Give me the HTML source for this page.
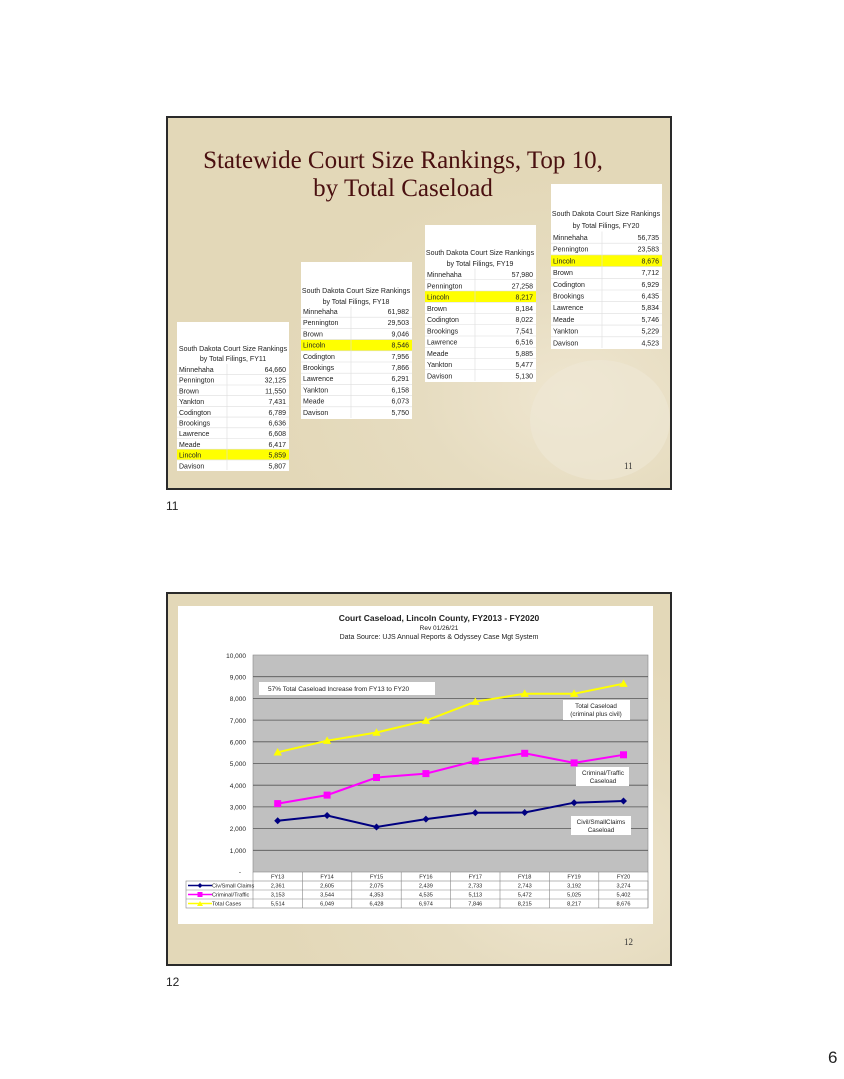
<!DOCTYPE html>
<html><head><meta charset="utf-8"><style>
html,body{margin:0;padding:0;background:#fff}
svg{display:block}
text{font-family:"Liberation Sans",sans-serif}
.t{font-size:7px;fill:#222}
.s{font-family:"Liberation Serif",serif}
</style></head><body>
<svg width="844" height="1079" viewBox="0 0 844 1079" xmlns="http://www.w3.org/2000/svg">
<defs>
<radialGradient id="bg" cx="0.8" cy="0.75" r="0.6">
<stop offset="0" stop-color="#efe6d0"/><stop offset="0.5" stop-color="#e6dcc0"/><stop offset="1" stop-color="#e3d8b8"/>
</radialGradient>
</defs>
<!-- Slide 11 -->
<rect x="167" y="117" width="504" height="372" fill="url(#bg)" stroke="#2a2a2a" stroke-width="2"/>
<ellipse cx="600" cy="420" rx="70" ry="60" fill="#efe8d6" opacity="0.6"/>
<text class="s" x="403" y="168" text-anchor="middle" font-size="25" fill="#4a1010">Statewide Court Size Rankings, Top 10,</text>
<text class="s" x="403" y="196" text-anchor="middle" font-size="25" fill="#4a1010">by Total Caseload</text>
<text class="s" x="624" y="469" font-size="9" fill="#333">11</text>

<!-- FY11 -->
<g>
<rect x="177" y="322" width="112" height="149" fill="#fff"/>
<text class="t" x="233" y="351" text-anchor="middle">South Dakota Court Size Rankings</text>
<text class="t" x="233" y="361" text-anchor="middle">by Total Filings, FY11</text>
<rect x="177" y="449" width="112" height="10.7" fill="#ff0"/>
<g stroke="#ddd" stroke-width="0.6"><line x1="227" y1="364" x2="227" y2="470"/>
<line x1="177" y1="374.3" x2="289" y2="374.3"/><line x1="177" y1="385" x2="289" y2="385"/><line x1="177" y1="395.7" x2="289" y2="395.7"/><line x1="177" y1="406.4" x2="289" y2="406.4"/><line x1="177" y1="417.1" x2="289" y2="417.1"/><line x1="177" y1="427.8" x2="289" y2="427.8"/><line x1="177" y1="438.5" x2="289" y2="438.5"/><line x1="177" y1="449.2" x2="289" y2="449.2"/><line x1="177" y1="459.9" x2="289" y2="459.9"/></g>
<g class="t">
<text class="t" x="179" y="372">Minnehaha</text><text class="t" x="286" y="372" text-anchor="end">64,660</text>
<text class="t" x="179" y="382.7">Pennington</text><text class="t" x="286" y="382.7" text-anchor="end">32,125</text>
<text class="t" x="179" y="393.4">Brown</text><text class="t" x="286" y="393.4" text-anchor="end">11,550</text>
<text class="t" x="179" y="404.1">Yankton</text><text class="t" x="286" y="404.1" text-anchor="end">7,431</text>
<text class="t" x="179" y="414.8">Codington</text><text class="t" x="286" y="414.8" text-anchor="end">6,789</text>
<text class="t" x="179" y="425.5">Brookings</text><text class="t" x="286" y="425.5" text-anchor="end">6,636</text>
<text class="t" x="179" y="436.2">Lawrence</text><text class="t" x="286" y="436.2" text-anchor="end">6,608</text>
<text class="t" x="179" y="446.9">Meade</text><text class="t" x="286" y="446.9" text-anchor="end">6,417</text>
<text class="t" x="179" y="457.6">Lincoln</text><text class="t" x="286" y="457.6" text-anchor="end">5,859</text>
<text class="t" x="179" y="468.3">Davison</text><text class="t" x="286" y="468.3" text-anchor="end">5,807</text>
</g></g>

<!-- FY18 -->
<g>
<rect x="301" y="262" width="111" height="157" fill="#fff"/>
<text class="t" x="356" y="293" text-anchor="middle">South Dakota Court Size Rankings</text>
<text class="t" x="356" y="304" text-anchor="middle">by Total Filings, FY18</text>
<rect x="301" y="339.6" width="111" height="11.2" fill="#ff0"/>
<g stroke="#ddd" stroke-width="0.6"><line x1="351" y1="306" x2="351" y2="418"/>
<line x1="301" y1="317.2" x2="412" y2="317.2"/><line x1="301" y1="328.4" x2="412" y2="328.4"/><line x1="301" y1="339.6" x2="412" y2="339.6"/><line x1="301" y1="350.8" x2="412" y2="350.8"/><line x1="301" y1="362" x2="412" y2="362"/><line x1="301" y1="373.2" x2="412" y2="373.2"/><line x1="301" y1="384.4" x2="412" y2="384.4"/><line x1="301" y1="395.6" x2="412" y2="395.6"/><line x1="301" y1="406.8" x2="412" y2="406.8"/></g>
<text class="t" x="303" y="314">Minnehaha</text><text class="t" x="409" y="314" text-anchor="end">61,982</text>
<text class="t" x="303" y="325.2">Pennington</text><text class="t" x="409" y="325.2" text-anchor="end">29,503</text>
<text class="t" x="303" y="336.4">Brown</text><text class="t" x="409" y="336.4" text-anchor="end">9,046</text>
<text class="t" x="303" y="347.6">Lincoln</text><text class="t" x="409" y="347.6" text-anchor="end">8,546</text>
<text class="t" x="303" y="358.8">Codington</text><text class="t" x="409" y="358.8" text-anchor="end">7,956</text>
<text class="t" x="303" y="370">Brookings</text><text class="t" x="409" y="370" text-anchor="end">7,866</text>
<text class="t" x="303" y="381.2">Lawrence</text><text class="t" x="409" y="381.2" text-anchor="end">6,291</text>
<text class="t" x="303" y="392.4">Yankton</text><text class="t" x="409" y="392.4" text-anchor="end">6,158</text>
<text class="t" x="303" y="403.6">Meade</text><text class="t" x="409" y="403.6" text-anchor="end">6,073</text>
<text class="t" x="303" y="414.8">Davison</text><text class="t" x="409" y="414.8" text-anchor="end">5,750</text>
</g>

<!-- FY19 -->
<g>
<rect x="425" y="225" width="111" height="157" fill="#fff"/>
<text class="t" x="480" y="255" text-anchor="middle">South Dakota Court Size Rankings</text>
<text class="t" x="480" y="266" text-anchor="middle">by Total Filings, FY19</text>
<rect x="425" y="291" width="111" height="11.25" fill="#ff0"/>
<g stroke="#ddd" stroke-width="0.6"><line x1="475" y1="268.5" x2="475" y2="381"/>
<line x1="425" y1="279.75" x2="536" y2="279.75"/><line x1="425" y1="291" x2="536" y2="291"/><line x1="425" y1="302.25" x2="536" y2="302.25"/><line x1="425" y1="313.5" x2="536" y2="313.5"/><line x1="425" y1="324.75" x2="536" y2="324.75"/><line x1="425" y1="336" x2="536" y2="336"/><line x1="425" y1="347.25" x2="536" y2="347.25"/><line x1="425" y1="358.5" x2="536" y2="358.5"/><line x1="425" y1="369.75" x2="536" y2="369.75"/></g>
<text class="t" x="427" y="277">Minnehaha</text><text class="t" x="533" y="277" text-anchor="end">57,980</text>
<text class="t" x="427" y="288.25">Pennington</text><text class="t" x="533" y="288.25" text-anchor="end">27,258</text>
<text class="t" x="427" y="299.5">Lincoln</text><text class="t" x="533" y="299.5" text-anchor="end">8,217</text>
<text class="t" x="427" y="310.75">Brown</text><text class="t" x="533" y="310.75" text-anchor="end">8,184</text>
<text class="t" x="427" y="322">Codington</text><text class="t" x="533" y="322" text-anchor="end">8,022</text>
<text class="t" x="427" y="333.25">Brookings</text><text class="t" x="533" y="333.25" text-anchor="end">7,541</text>
<text class="t" x="427" y="344.5">Lawrence</text><text class="t" x="533" y="344.5" text-anchor="end">6,516</text>
<text class="t" x="427" y="355.75">Meade</text><text class="t" x="533" y="355.75" text-anchor="end">5,885</text>
<text class="t" x="427" y="367">Yankton</text><text class="t" x="533" y="367" text-anchor="end">5,477</text>
<text class="t" x="427" y="378.25">Davison</text><text class="t" x="533" y="378.25" text-anchor="end">5,130</text>
</g>

<!-- FY20 -->
<g>
<rect x="551" y="184" width="111" height="165" fill="#fff"/>
<text class="t" x="606" y="216" text-anchor="middle">South Dakota Court Size Rankings</text>
<text class="t" x="606" y="228" text-anchor="middle">by Total Filings, FY20</text>
<rect x="551" y="254.9" width="111" height="11.7" fill="#ff0"/>
<g stroke="#ddd" stroke-width="0.6"><line x1="602" y1="231.5" x2="602" y2="348"/>
<line x1="551" y1="243.2" x2="662" y2="243.2"/><line x1="551" y1="254.9" x2="662" y2="254.9"/><line x1="551" y1="266.6" x2="662" y2="266.6"/><line x1="551" y1="278.3" x2="662" y2="278.3"/><line x1="551" y1="290" x2="662" y2="290"/><line x1="551" y1="301.7" x2="662" y2="301.7"/><line x1="551" y1="313.4" x2="662" y2="313.4"/><line x1="551" y1="325.1" x2="662" y2="325.1"/><line x1="551" y1="336.8" x2="662" y2="336.8"/></g>
<text class="t" x="553" y="240">Minnehaha</text><text class="t" x="659" y="240" text-anchor="end">56,735</text>
<text class="t" x="553" y="251.7">Pennington</text><text class="t" x="659" y="251.7" text-anchor="end">23,583</text>
<text class="t" x="553" y="263.4">Lincoln</text><text class="t" x="659" y="263.4" text-anchor="end">8,676</text>
<text class="t" x="553" y="275.1">Brown</text><text class="t" x="659" y="275.1" text-anchor="end">7,712</text>
<text class="t" x="553" y="286.8">Codington</text><text class="t" x="659" y="286.8" text-anchor="end">6,929</text>
<text class="t" x="553" y="298.5">Brookings</text><text class="t" x="659" y="298.5" text-anchor="end">6,435</text>
<text class="t" x="553" y="310.2">Lawrence</text><text class="t" x="659" y="310.2" text-anchor="end">5,834</text>
<text class="t" x="553" y="321.9">Meade</text><text class="t" x="659" y="321.9" text-anchor="end">5,746</text>
<text class="t" x="553" y="333.6">Yankton</text><text class="t" x="659" y="333.6" text-anchor="end">5,229</text>
<text class="t" x="553" y="345.3">Davison</text><text class="t" x="659" y="345.3" text-anchor="end">4,523</text>
</g>

<text x="166" y="510" font-size="12" fill="#222">11</text>

<!-- Slide 12 -->
<rect x="167" y="593" width="504" height="372" fill="url(#bg)" stroke="#2a2a2a" stroke-width="2"/>
<rect x="178" y="606" width="475" height="318" fill="#fff"/>
<text class="s" x="624" y="945" font-size="9" fill="#333">12</text>
<text x="439" y="621" text-anchor="middle" font-size="8.5" font-weight="bold" fill="#222">Court Caseload, Lincoln County, FY2013 - FY2020</text>
<text x="439" y="630" text-anchor="middle" font-size="6.5" fill="#222">Rev 01/26/21</text>
<text x="439" y="639" text-anchor="middle" font-size="7" fill="#222">Data Source: UJS Annual  Reports &amp; Odyssey Case Mgt System</text>
<rect x="253" y="655" width="395" height="217" fill="#c0c0c0" stroke="#888" stroke-width="0.6"/>
<g stroke="#555" stroke-width="0.8">
<line x1="253" y1="676.7" x2="648" y2="676.7"/><line x1="253" y1="698.4" x2="648" y2="698.4"/><line x1="253" y1="720.1" x2="648" y2="720.1"/><line x1="253" y1="741.8" x2="648" y2="741.8"/><line x1="253" y1="763.5" x2="648" y2="763.5"/><line x1="253" y1="785.2" x2="648" y2="785.2"/><line x1="253" y1="806.9" x2="648" y2="806.9"/><line x1="253" y1="828.6" x2="648" y2="828.6"/><line x1="253" y1="850.3" x2="648" y2="850.3"/>
</g>
<g font-size="6.5" fill="#222" text-anchor="end">
<text x="246" y="658">10,000</text><text x="246" y="679.5">9,000</text><text x="246" y="701">8,000</text><text x="246" y="723">7,000</text><text x="246" y="744.5">6,000</text><text x="246" y="766">5,000</text><text x="246" y="788">4,000</text><text x="246" y="809.5">3,000</text><text x="246" y="831">2,000</text><text x="246" y="853">1,000</text><text x="241" y="874">-</text>
</g>
<rect x="259" y="682" width="176" height="13" fill="#fff"/>
<text x="268" y="691" font-size="6.5" fill="#222">57% Total Caseload Increase  from FY13 to FY20</text>
<rect x="563" y="700" width="67" height="20" fill="#fff"/>
<text x="596" y="708" text-anchor="middle" font-size="6.3" fill="#222">Total Caseload</text>
<text x="596" y="716" text-anchor="middle" font-size="6.3" fill="#222">(criminal plus civil)</text>
<rect x="576" y="767" width="53" height="19" fill="#fff"/>
<text x="603" y="775" text-anchor="middle" font-size="6.3" fill="#222">Criminal/Traffic</text>
<text x="603" y="783" text-anchor="middle" font-size="6.3" fill="#222">Caseload</text>
<rect x="571" y="816" width="60" height="19" fill="#fff"/>
<text x="601" y="824" text-anchor="middle" font-size="6.3" fill="#222">Civil/SmallClaims</text>
<text x="601" y="832" text-anchor="middle" font-size="6.3" fill="#222">Caseload</text>
<!-- series -->
<polyline fill="none" stroke="#ffff00" stroke-width="2" points="277.7,752.3 327.1,740.7 376.5,732.5 425.9,720.7 475.3,701.7 524.7,693.7 574.1,693.7 623.5,683.7"/>
<g fill="#ffff00">
<polygon points="277.7,748 273.5,755.5 281.9,755.5"/><polygon points="327.1,736.4 322.9,743.9 331.3,743.9"/><polygon points="376.5,728.2 372.3,735.7 380.7,735.7"/><polygon points="425.9,716.4 421.7,723.9 430.1,723.9"/><polygon points="475.3,697.4 471.1,704.9 479.5,704.9"/><polygon points="524.7,689.4 520.5,696.9 528.9,696.9"/><polygon points="574.1,689.4 569.9,696.9 578.3,696.9"/><polygon points="623.5,679.4 619.3,686.9 627.7,686.9"/>
</g>
<polyline fill="none" stroke="#ff00ff" stroke-width="2" points="277.7,803.6 327.1,795.1 376.5,777.5 425.9,773.6 475.3,761 524.7,753.3 574.1,762.9 623.5,754.8"/>
<g fill="#ff00ff">
<rect x="274.2" y="800.1" width="7" height="7"/><rect x="323.6" y="791.6" width="7" height="7"/><rect x="373" y="774" width="7" height="7"/><rect x="422.4" y="770.1" width="7" height="7"/><rect x="471.8" y="757.5" width="7" height="7"/><rect x="521.2" y="749.8" width="7" height="7"/><rect x="570.6" y="759.4" width="7" height="7"/><rect x="620" y="751.3" width="7" height="7"/>
</g>
<polyline fill="none" stroke="#000080" stroke-width="2" points="277.7,820.8 327.1,815.5 376.5,827 425.9,819.1 475.3,812.7 524.7,812.5 574.1,802.7 623.5,801"/>
<g fill="#000080">
<polygon points="277.7,817.3 281.2,820.8 277.7,824.3 274.2,820.8"/><polygon points="327.1,812 330.6,815.5 327.1,819 323.6,815.5"/><polygon points="376.5,823.5 380,827 376.5,830.5 373,827"/><polygon points="425.9,815.6 429.4,819.1 425.9,822.6 422.4,819.1"/><polygon points="475.3,809.2 478.8,812.7 475.3,816.2 471.8,812.7"/><polygon points="524.7,809 528.2,812.5 524.7,816 521.2,812.5"/><polygon points="574.1,799.2 577.6,802.7 574.1,806.2 570.6,802.7"/><polygon points="623.5,797.5 627,801 623.5,804.5 620,801"/>
</g>
<!-- data table -->
<g stroke="#888" stroke-width="0.6" fill="none">
<rect x="186" y="881" width="462" height="27"/>
<line x1="253" y1="872" x2="253" y2="908"/>
<line x1="302.4" y1="872" x2="302.4" y2="908"/><line x1="351.8" y1="872" x2="351.8" y2="908"/><line x1="401.2" y1="872" x2="401.2" y2="908"/><line x1="450.6" y1="872" x2="450.6" y2="908"/><line x1="500" y1="872" x2="500" y2="908"/><line x1="549.4" y1="872" x2="549.4" y2="908"/><line x1="598.8" y1="872" x2="598.8" y2="908"/><line x1="648" y1="872" x2="648" y2="908"/>
<line x1="186" y1="890" x2="648" y2="890"/><line x1="186" y1="899" x2="648" y2="899"/>
</g>
<line x1="188" y1="885.5" x2="212" y2="885.5" stroke="#000080" stroke-width="1.5"/><polygon points="200,883 202.5,885.5 200,888 197.5,885.5" fill="#000080"/>
<line x1="188" y1="894.5" x2="212" y2="894.5" stroke="#ff00ff" stroke-width="1.5"/><rect x="197.5" y="892" width="5" height="5" fill="#ff00ff"/>
<line x1="188" y1="903.5" x2="212" y2="903.5" stroke="#ffff00" stroke-width="1.5"/><polygon points="200,901 197,906 203,906" fill="#ffff00"/>
<g font-size="5.6" fill="#222">
<text x="212" y="887.7">Civ/Small Claims</text>
<text x="212" y="896.7">Criminal/Traffic</text>
<text x="212" y="905.7">Total Cases</text>
</g>
<g font-size="5.6" fill="#222" text-anchor="middle">
<text x="277.7" y="878.7">FY13</text><text x="327.1" y="878.7">FY14</text><text x="376.5" y="878.7">FY15</text><text x="425.9" y="878.7">FY16</text><text x="475.3" y="878.7">FY17</text><text x="524.7" y="878.7">FY18</text><text x="574.1" y="878.7">FY19</text><text x="623.5" y="878.7">FY20</text>
<text x="277.7" y="887.7">2,361</text><text x="327.1" y="887.7">2,605</text><text x="376.5" y="887.7">2,075</text><text x="425.9" y="887.7">2,439</text><text x="475.3" y="887.7">2,733</text><text x="524.7" y="887.7">2,743</text><text x="574.1" y="887.7">3,192</text><text x="623.5" y="887.7">3,274</text>
<text x="277.7" y="896.7">3,153</text><text x="327.1" y="896.7">3,544</text><text x="376.5" y="896.7">4,353</text><text x="425.9" y="896.7">4,535</text><text x="475.3" y="896.7">5,113</text><text x="524.7" y="896.7">5,472</text><text x="574.1" y="896.7">5,025</text><text x="623.5" y="896.7">5,402</text>
<text x="277.7" y="905.7">5,514</text><text x="327.1" y="905.7">6,049</text><text x="376.5" y="905.7">6,428</text><text x="425.9" y="905.7">6,974</text><text x="475.3" y="905.7">7,846</text><text x="524.7" y="905.7">8,215</text><text x="574.1" y="905.7">8,217</text><text x="623.5" y="905.7">8,676</text>
</g>

<text x="166" y="986" font-size="12" fill="#222">12</text>
<text x="828" y="1063" font-size="17" fill="#222">6</text>
</svg>
</body></html>
